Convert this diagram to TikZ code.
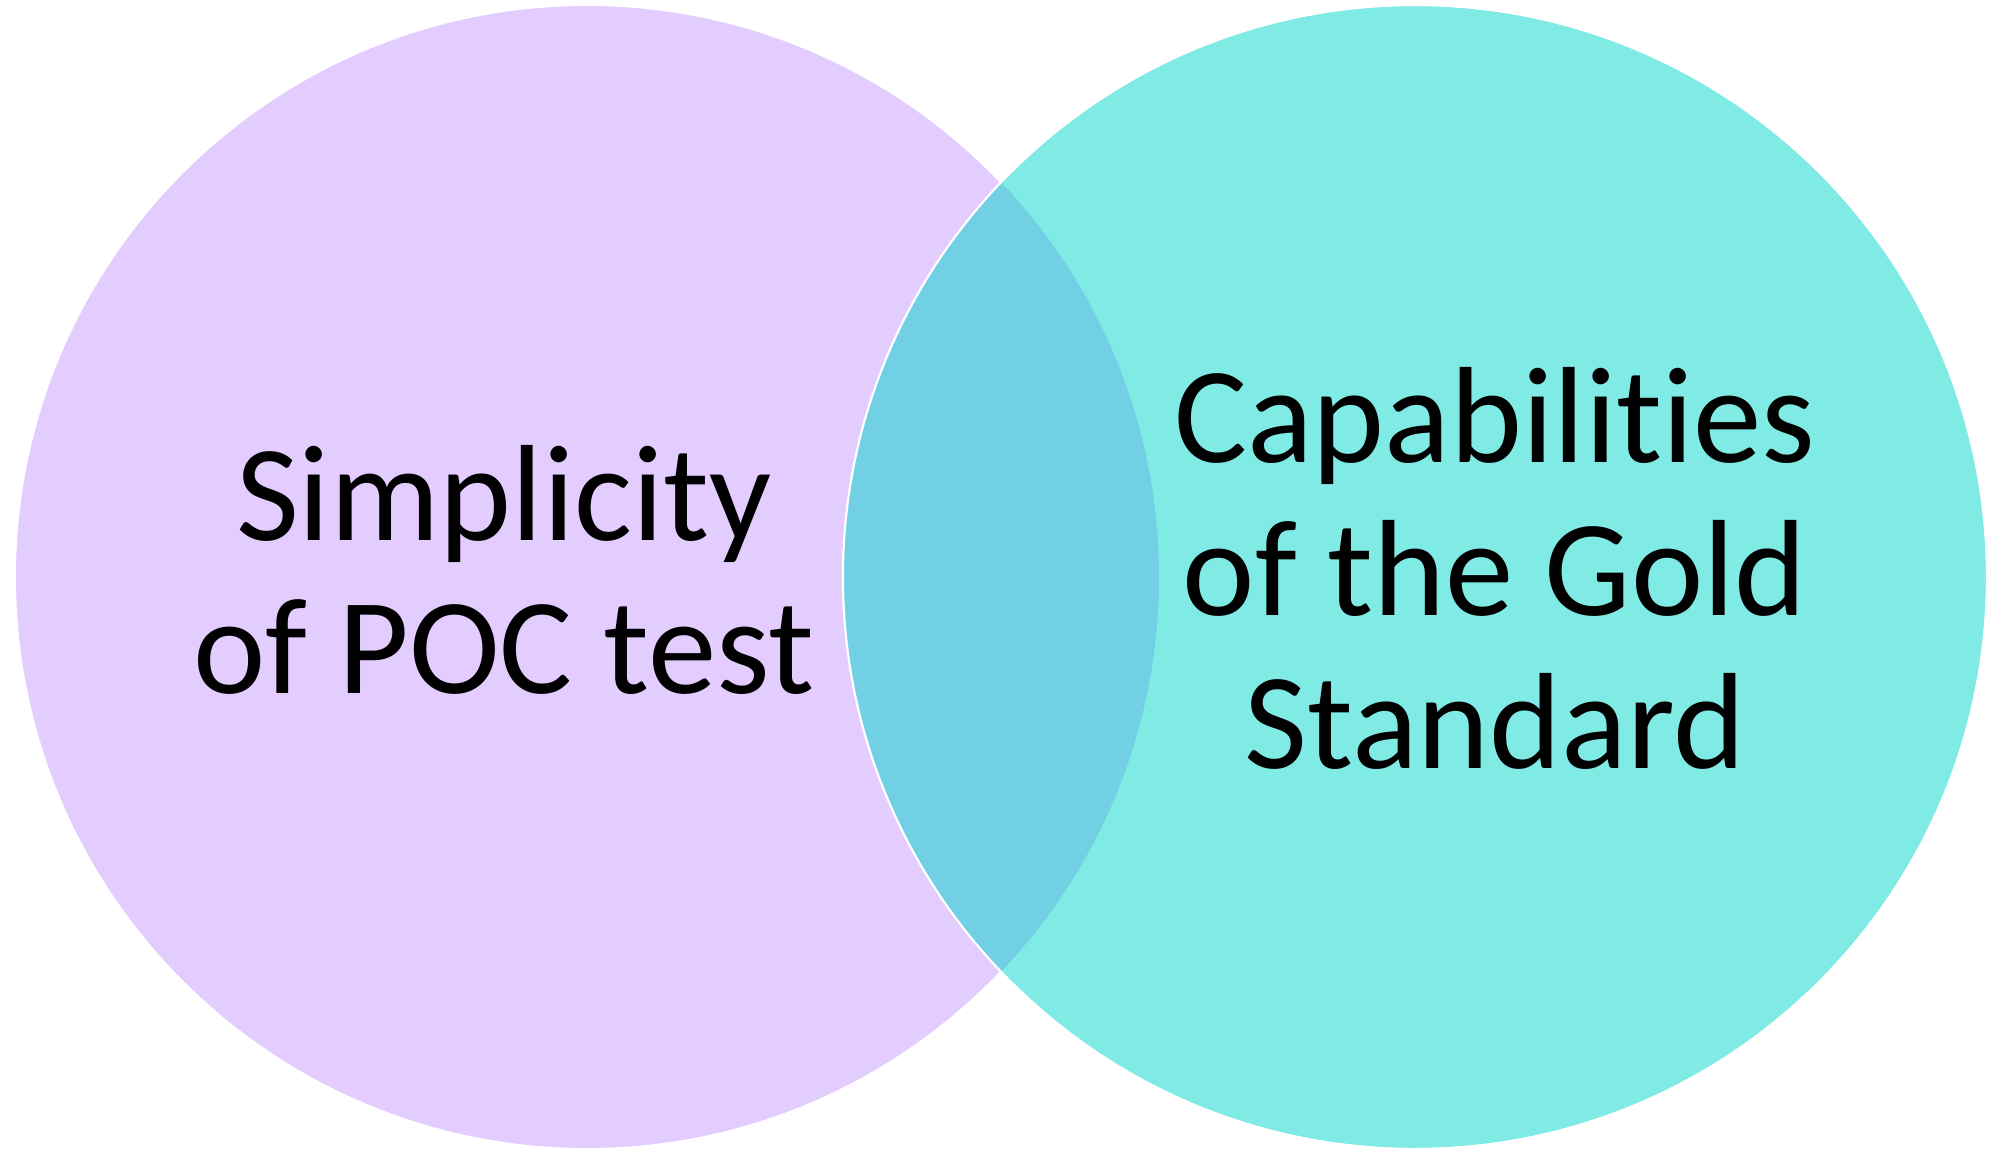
\documentclass[tikz,border=0pt]{standalone}
\usepackage{fontspec}
\setmainfont{Carlito}[Ligatures={NoCommon,NoContextual}]
\definecolor{lilac}{RGB}{227,204,254}
\definecolor{aqua}{RGB}{128,234,229}
\definecolor{overlap}{RGB}{114,208,228}
\tikzset{
  label text/.style={font=\fontsize{137}{153}\selectfont, align=center, anchor=base, inner sep=0pt},
  ring/.style={draw=white, line width=2pt}
}
\begin{document}
\begin{tikzpicture}[x=1pt,y=-1pt]
\useasboundingbox (0,0) rectangle (1990,1149);
\fill[white] (0,0) rectangle (1990,1149);
\begin{scope}
\clip (0,0) rectangle (1990,1149);
\fill[lilac, ring] (587,577) circle[radius=572];
\fill[aqua, ring] (1415,577) circle[radius=572];
\begin{scope}
\clip (587,577) circle[radius=572];
\fill[overlap] (1415,577) circle[radius=572];
\end{scope}
\draw[ring] (1415,577) circle[radius=572];
\end{scope}
\node[label text] (simp) at (504,693) {Simplicity\\of POC test};
\node[label text] (cap) at (1495,768) {Capabilities\\of the Gold\\Standard};
\end{tikzpicture}
\end{document}
